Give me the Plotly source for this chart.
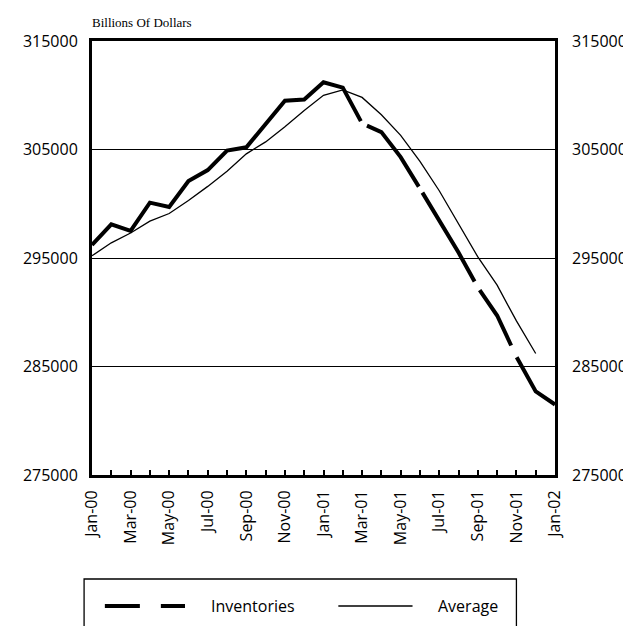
import plotly.graph_objects as go

# Monthly data, billions of dollars
months = ["Jan-00", "Feb-00", "Mar-00", "Apr-00", "May-00", "Jun-00", "Jul-00",
          "Aug-00", "Sep-00", "Oct-00", "Nov-00", "Dec-00", "Jan-01", "Feb-01",
          "Mar-01", "Apr-01", "May-01", "Jun-01", "Jul-01", "Aug-01", "Sep-01",
          "Oct-01", "Nov-01", "Dec-01", "Jan-02"]
inventories = [296200, 298100, 297500, 300100, 299700, 302100, 303100,
               304900, 305200, 307400, 309500, 309600, 311200, 310700,
               307400, 306600, 304300, 301400, 298400, 295500, 292300,
               289700, 285900, 282700, 281500]
average = [295200, 296400, 297300, 298400, 299100, 300300, 301600,
           303000, 304600, 305700, 307100, 308600, 310000, 310500,
           309800, 308200, 306300, 303900, 301200, 298200, 295100,
           292500, 289200, 286200, None]
y_ticks = [275000, 285000, 295000, 305000, 315000]
x_ticktext = [m if i % 2 == 0 else "" for i, m in enumerate(months)]

W, H = 631, 626
L, R, T, B = 84, 79, 33, 159
PW, PH = W - L - R, H - T - B


def px(x):
    # page pixel -> paper x
    return (x - L) / PW


def py(y):
    # page pixel -> paper y
    return (H - B - y) / PH


TICKFONT = dict(family="Open Sans", size=16, color="black")

fig = go.Figure()
fig.add_trace(go.Scatter(
    x=months, y=inventories, mode="lines", name="Inventories",
    line=dict(color="black", width=4,
              dash="368px,8px,82px,7px,103px,10px,64px,13px,400px"),
))
fig.add_trace(go.Scatter(
    x=months, y=average, mode="lines", name="Average", yaxis="y2",
    line=dict(color="black", width=1.3),
))

fig.update_layout(
    width=W, height=H,
    margin=dict(l=L, r=R, t=T, b=B),
    paper_bgcolor="white", plot_bgcolor="white",
    showlegend=False,
    title=dict(text="Billions Of Dollars", xref="paper", x=0, xanchor="left",
               yref="container", y=1 - 14 / H, yanchor="middle",
               font=dict(family="Liberation Serif", size=13, color="black")),
    xaxis=dict(type="category", range=[0, len(months) - 1],
               tickvals=months, ticktext=x_ticktext, tickangle=-90,
               ticks="inside", ticklen=5, tickwidth=1.5, tickcolor="black",
               ticklabelstandoff=6, tickfont=TICKFONT,
               showline=True, mirror=True, linewidth=3, linecolor="black",
               showgrid=False, zeroline=False),
    yaxis=dict(range=[y_ticks[0], y_ticks[-1]], tickvals=y_ticks, tickformat="d",
               tickfont=TICKFONT, ticklabelstandoff=8,
               showgrid=True, gridcolor="black", gridwidth=1.3,
               showline=True, mirror=True, linewidth=3, linecolor="black",
               zeroline=False),
    yaxis2=dict(overlaying="y", side="right", range=[y_ticks[0], y_ticks[-1]],
                tickvals=y_ticks, tickformat="d", tickfont=TICKFONT,
                ticklabelstandoff=16, showgrid=False, showline=False,
                zeroline=False),
)

# legend box drawn by hand to match the original layout
fig.add_shape(type="rect", xref="paper", yref="paper",
              x0=px(76), x1=px(513), y0=py(624), y1=py(571),
              line=dict(color="black", width=1.3))
fig.add_shape(type="line", xref="paper", yref="paper",
              x0=px(97), x1=px(178), y0=py(598), y1=py(598),
              line=dict(color="black", width=4, dash="35px,21px,25px"))
fig.add_shape(type="line", xref="paper", yref="paper",
              x0=px(333), x1=px(408), y0=py(598), y1=py(598),
              line=dict(color="black", width=1.3))
fig.add_annotation(text="Inventories", xref="paper", yref="paper",
                   x=px(202), y=py(598), xanchor="left", yanchor="middle",
                   showarrow=False, font=TICKFONT)
fig.add_annotation(text="Average", xref="paper", yref="paper",
                   x=px(432), y=py(598), xanchor="left", yanchor="middle",
                   showarrow=False, font=TICKFONT)

fig.write_html("out.html")
